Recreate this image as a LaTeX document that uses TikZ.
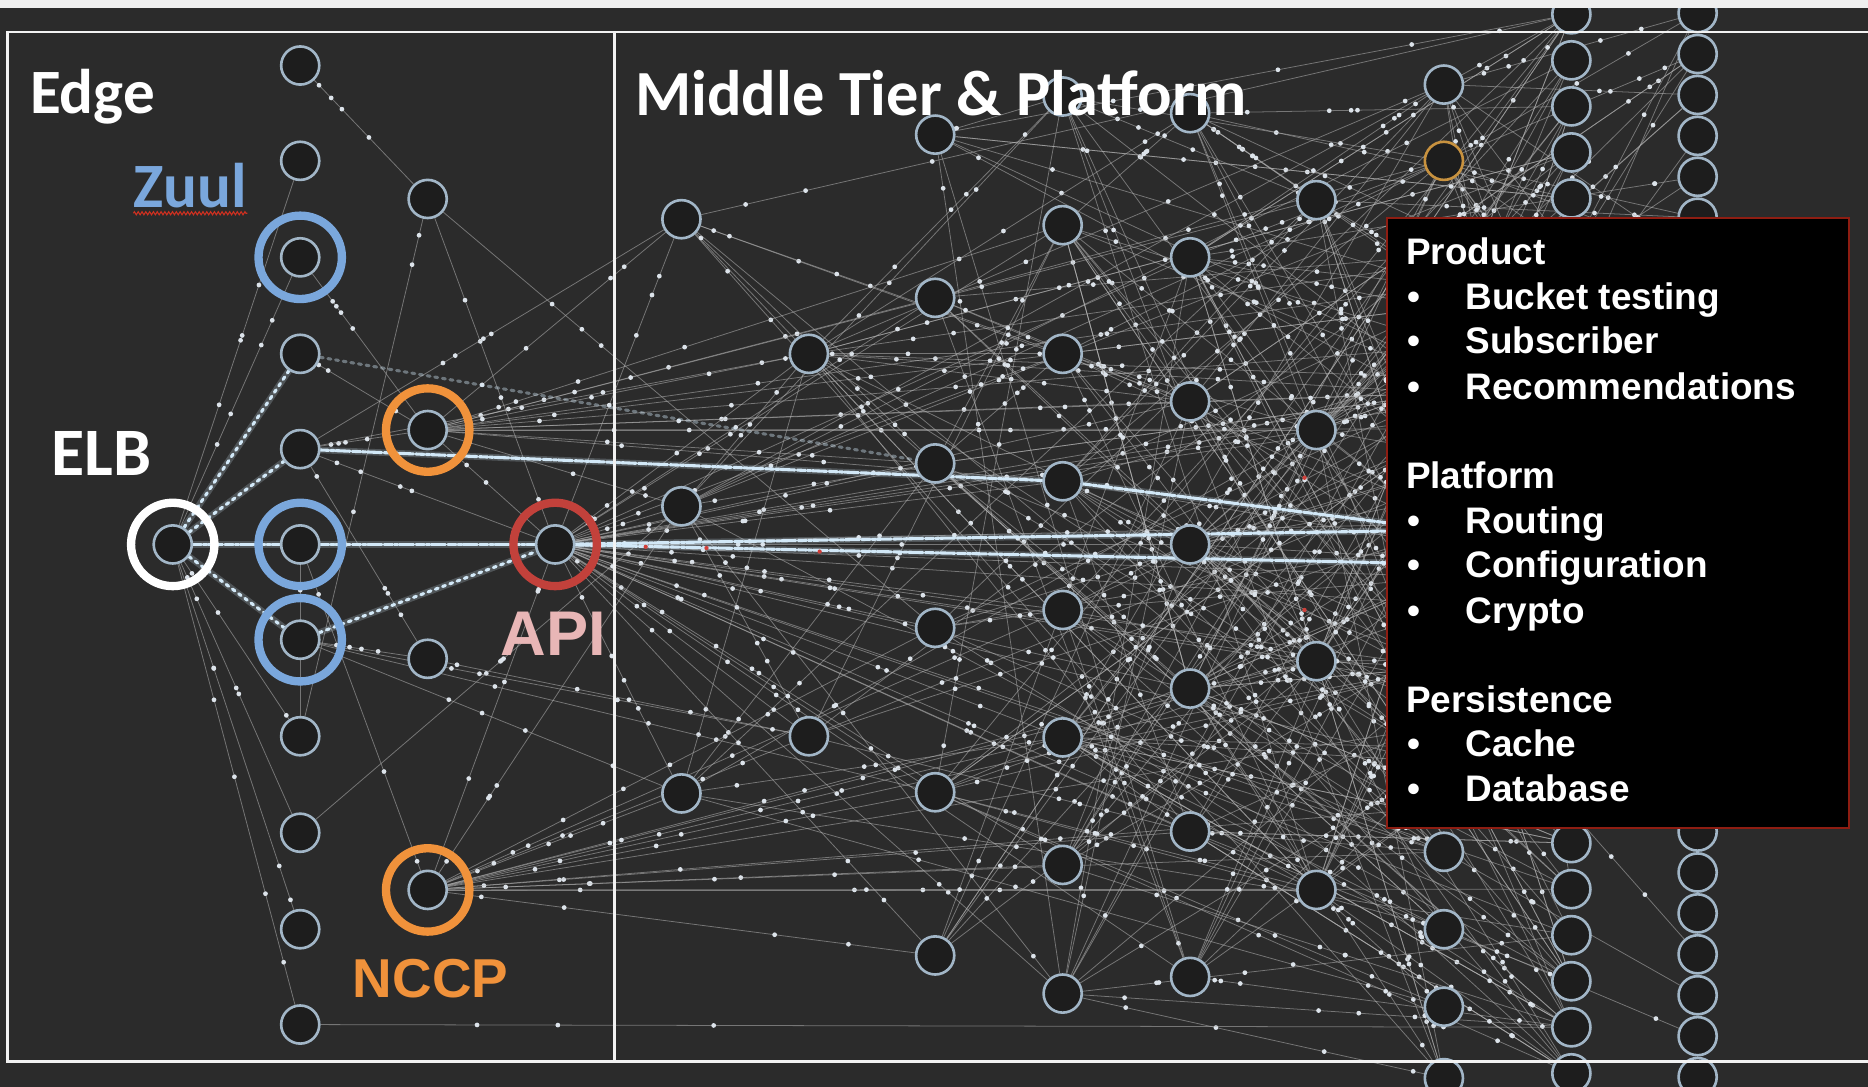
\documentclass[tikz,border=0pt]{standalone}
\usepackage{fontspec}
\newfontfamily\headfont{Carlito}
\newfontfamily\armfont{Liberation Sans}
\usetikzlibrary{calc,decorations.pathmorphing}
\pgfdeclarelayer{backdrop}
\pgfdeclarelayer{background}
\pgfsetlayers{backdrop,background,main}

\definecolor{bgc}{HTML}{2B2B2B}
\definecolor{nodefill}{HTML}{1D1D1D}
\definecolor{nodeline}{HTML}{A2B6C7}
\definecolor{wirec}{HTML}{B4B4B4}
\definecolor{dotc}{HTML}{DCE3EA}
\definecolor{streamc}{HTML}{D2E8F7}
\definecolor{zuulblue}{HTML}{7AA7DC}
\definecolor{nccporange}{HTML}{F0923B}
\definecolor{apired}{HTML}{C2413B}
\definecolor{apitext}{HTML}{E8B6B6}
\definecolor{smallorange}{HTML}{C8923F}
\definecolor{boxred}{HTML}{8E1D12}
\definecolor{stripc}{HTML}{EFEFEF}
\definecolor{framec}{HTML}{F2F2F2}
\definecolor{sparkred}{HTML}{D0403A}
\definecolor{squiggle}{HTML}{D03020}

\tikzset{
  netnode/.style={circle, draw=nodeline, fill=nodefill, line width=2.2pt, minimum size=32pt, inner sep=0pt},
  wire/.style={draw=wirec, line width=0.65pt, opacity=0.55},
  streamglow/.style={draw=streamc, line width=5.5pt, opacity=0.22, line cap=round},
  streamcore/.style={draw=streamc, line width=2.6pt, line cap=round, dash pattern=on 7pt off 1.5pt on 3pt off 1.2pt on 12pt off 2pt},
  streamdots/.style={draw=streamc, line width=2.6pt, line cap=round, dash pattern=on 2.5pt off 4pt},
  ring/.style={line width=7pt},
  title/.style={text=white, font=\headfont\bfseries\fontsize{53}{53}\selectfont, anchor=base west, inner sep=0pt},
  boxtext/.style={text=white, font=\armfont\bfseries\fontsize{31}{31}\selectfont, anchor=base west, inner sep=0pt},
}

% one thin link with a few travelling particles on it
\newcommand\netlink[2]{%
  \draw[wire] (#1) -- (#2);
  \foreach \k in {1,2,3,4}{%
    \pgfmathsetmacro\dpos{0.06+0.88*rnd}%
    \fill[dotc] ($(#1)!\dpos!(#2)$) circle (2pt);}%
}

\begin{document}
\begin{tikzpicture}[x=1pt,y=-1pt]
\useasboundingbox (0,0) rectangle (1568,912);
\begin{pgfonlayer}{backdrop}
  \fill[bgc] (0,0) rectangle (1568,912);
\end{pgfonlayer}

% ---------- edge tier ----------
\node[netnode] (elb) at (145,457) {};
\node[netnode] (api) at (466,457) {};
\foreach \y [count=\i] in {55,135,216,297,377,457,537,618,699,780,860}
  \node[netnode] (e\i) at (252,\y) {};
\foreach \y [count=\i] in {167,361,553,747}
  \node[netnode] (f\i) at (359,\y) {};

% ---------- middle tier ----------
\foreach \i/\x/\y in {1/572/184, 2/572/425, 3/572/666, 4/679/297, 5/679/618,
  6/785/113, 7/785/250, 8/785/389, 9/785/527, 10/785/665, 11/785/802,
  12/892/81, 13/892/189, 14/892/297, 15/892/404, 16/892/512, 17/892/619, 18/892/726, 19/892/834,
  20/999/95, 21/999/216, 22/999/337, 23/999/457, 24/999/578, 25/999/698, 26/999/820,
  27/1105/168, 28/1105/361, 29/1105/555, 30/1105/747,
  31/1212/71, 33/1212/240, 34/1212/330, 35/1212/445, 36/1212/560, 37/1212/640,
  38/1212/715, 39/1212/780, 40/1212/845, 41/1212/905}
  \node[netnode] (g\i) at (\x,\y) {};
\node[netnode, draw=smallorange] (g32) at (1212,135) {};
\foreach \j in {0,...,23}{\pgfmathtruncatemacro\i{42+\j}\node[netnode] (g\i) at (1319,{12+38.65*\j}) {};}
\foreach \j in {0,...,26}{\pgfmathtruncatemacro\i{66+\j}\node[netnode] (g\i) at (1425,{11+34.35*\j}) {};}

\begin{pgfonlayer}{background}
  \pgfmathsetseed{2024}
  % mesh of the middle tier: every link runs to a column further right
  \foreach \n in {1,...,300}{%
    \pgfmathrandominteger{\ia}{1}{32}%
    \pgfmathtruncatemacro\lo{\ia<=3 ? 4 : (\ia<=5 ? 6 : (\ia<=11 ? 12 : (\ia<=19 ? 20 : (\ia<=26 ? 27 : (\ia<=30 ? 31 : 42)))))}%
    \pgfmathtruncatemacro\hi{min(\lo+45,92)}%
    \pgfmathrandominteger{\ib}{\lo}{\hi}%
    \netlink{g\ia}{g\ib}%
  }
  % traffic converging on the lower persistence nodes
  \foreach \p/\q in {2/63, 4/64, 8/63, 9/64, 14/62, 15/65, 16/63, 22/64, 23/65, 24/64,
    28/62, 29/65, 7/61, 13/60, 21/63, 10/65, 17/64, 3/62, 36/89, 38/90, 39/91}
    {\netlink{g\p}{g\q}}
  % edge tier links
  \foreach \p/\q in {e1/f1, f1/g9, e2/elb, e3/elb, e3/f2, f1/e8, f1/api, e4/f2, e5/f2,
    e5/api, elb/e8, elb/e9, elb/e10, elb/e11, e6/f4, e9/g2, f4/api, f3/g5, e11/g64,
    e7/g3, e7/g10, e7/g5, f2/api, e5/f3, e5/g1, e5/g4, e7/f3, e6/e8}
    {\netlink{\p}{\q}}
  % fan out of the orange node
  \foreach \t in {1,2,4,7,8,13,14,15,22,27,28,33,34,49,51}
    {\netlink{f2}{g\t}}
  % fan out of API
  \foreach \t in {1,2,3,4,5,7,8,9,10,11,13,14,15,16,17,18,19,21,22,23,24,25,26,28,29,30,
    34,35,36,38,39,50,53,55,57,59,61,75,80}
    {\netlink{api}{g\t}}
  % fan out of NCCP
  \foreach \t in {2,3,5,9,10,11,16,17,18,24,25,29,30,36,38,57,59,61}
    {\netlink{f4}{g\t}}
  % bright request streams
  \foreach \p/\q in {elb/e4, elb/e5, elb/e7, e7/api}{
    \draw[streamglow] (\p) -- (\q);
    \draw[streamdots] (\p) -- (\q);}
  \draw[streamdots, opacity=0.4] (e4) -- (g8);
  \foreach \p/\q in {elb/e6, e6/api, e5/g15, g15/g35, api/g35, api/g54}{
    \draw[streamglow] (\p) -- (\q);
    \draw[streamcore] (\p) -- (\q);}
  \foreach \x/\y in {542/459, 593/460, 688/463, 1095/401, 1095/512}
    \fill[sparkred] (\x,\y) circle (1.8pt);
\end{pgfonlayer}

% highlighted services
\draw[ring, white] (elb) circle (35pt);
\foreach \n in {e3,e6,e7} \draw[ring, zuulblue] (\n) circle (35pt);
\draw[ring, nccporange] (f2) circle (35pt);
\draw[ring, nccporange] (f4) circle (35pt);
\draw[ring, apired] (api) circle (35pt);

% frame and tier divider
\draw[framec, line width=2.2pt] (1580,27) -- (6.5,27) -- (6.5,891) -- (1580,891);
\draw[framec, line width=2.2pt] (516,27) -- (516,891);

% legend box
\draw[fill=black, draw=boxred, line width=1.6pt] (1164,183) rectangle (1552,695);
\foreach \txt/\y [count=\i] in {Product/222, Platform/410, Persistence/598}
  \node[boxtext] (h\i) at (1180,\y) {\txt};
\foreach \txt/\y [count=\i] in {Bucket testing/260, Subscriber/297, Recommendations/335,
  Routing/448, Configuration/485, Crypto/523, Cache/635, Database/673}{
  \node[boxtext] (b\i) at (1181,\y) {\textbullet};
  \node[boxtext] (it\i) at (1230,\y) {\txt};}

% labels
\node[title] (edgelbl) at (25,95) {Edge};
\node[title, font=\headfont\bfseries\fontsize{54}{54}\selectfont] (midlbl) at (533,97) {Middle Tier \& Platform};
\node[title, text=zuulblue] (zuullbl) at (112,174) {Zuul};
\draw[squiggle, line width=0.9pt, decorate, decoration={zigzag, amplitude=1.3pt, segment length=3.2pt}]
  ([yshift=-5pt]zuullbl.base west) -- ([yshift=-5pt]zuullbl.base east);
\node[title, font=\headfont\bfseries\fontsize{57}{57}\selectfont] (elblbl) at (43,399) {ELB};
\node[font=\armfont\bfseries\fontsize{53}{53}\selectfont, text=apitext, anchor=base west, inner sep=0pt] (apilbl) at (420,550) {API};
\node[font=\armfont\bfseries\fontsize{46}{46}\selectfont, text=nccporange, anchor=base west, inner sep=0pt] (nccplbl) at (296,837) {NCCP};

% light strip along the top
\fill[stripc] (0,0) rectangle (1568,6.5);
\end{tikzpicture}
\end{document}
